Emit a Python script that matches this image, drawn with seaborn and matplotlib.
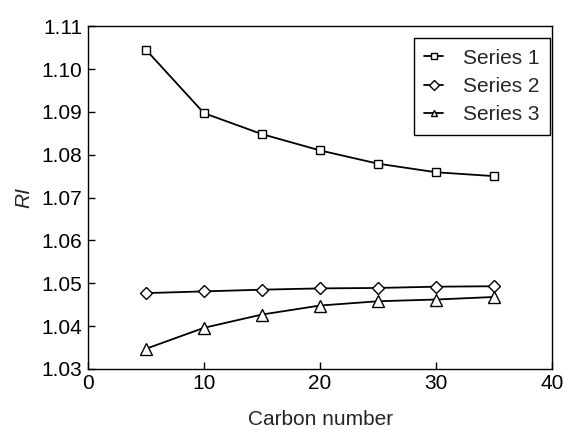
import pandas as pd
import seaborn as sns
import matplotlib.pyplot as plt

carbon = [5, 10, 15, 20, 25, 30, 35]
series1 = [1.1045, 1.0897, 1.0848, 1.0810, 1.0779, 1.0759, 1.0750]
series2 = [1.0477, 1.0481, 1.0485, 1.0488, 1.0489, 1.0492, 1.0493]
series3 = [1.0347, 1.0396, 1.0427, 1.0448, 1.0458, 1.0462, 1.0468]
names = ['Series 1', 'Series 2', 'Series 3']

df = pd.DataFrame({'Carbon number': carbon * 3,
                   'RI': series1 + series2 + series3,
                   'series': [n for n in names for _ in carbon]})

sns.set_style('ticks')
plt.rcParams['font.family'] = ['Liberation Sans', 'DejaVu Sans']
plt.rcParams['xtick.direction'] = 'in'
plt.rcParams['ytick.direction'] = 'in'

fig = plt.figure(figsize=(5.67, 4.29), dpi=100)
ax = fig.add_axes([0.155, 0.140, 0.819, 0.799])

g = sns.lineplot(data=df, x='Carbon number', y='RI', hue='series', style='series',
                 palette=['black'] * 3, dashes=False, markers=['s', 'D', '^'],
                 linewidth=1.3, ax=ax)
for line in ax.lines:
    line.set_markerfacecolor('white')
    line.set_markeredgecolor('black')
    line.set_markeredgewidth(1)
    m = line.get_marker()
    line.set_markersize({'s': 6, 'D': 6, '^': 8.5}.get(m, 7))

ax.set_xlim(0, 40)
ax.set_ylim(1.03, 1.11)
ax.set_xticks([0, 10, 20, 30, 40])
ax.set_yticks([1.03 + 0.01 * i for i in range(9)])
ax.set_yticklabels([f'{1.03 + 0.01 * i:.2f}' for i in range(9)])
ax.tick_params(labelsize=15, length=5, width=1, colors='black', pad=4)
ax.set_xlabel('Carbon number', fontsize=15, labelpad=12)
ax.set_ylabel('RI', fontsize=15, style='italic', labelpad=6)
for s in ax.spines.values():
    s.set_linewidth(1)
    s.set_color('black')

leg = ax.legend(loc='upper right', bbox_to_anchor=(0.995, 0.965), fontsize=15,
                frameon=True, fancybox=False, edgecolor='black', framealpha=1,
                handlelength=0.9, handletextpad=0.95, borderpad=0.5, labelspacing=0.45,
                borderaxespad=0)
leg.get_frame().set_linewidth(1)
for line in leg.get_lines():
    line.set_markersize(5)

plt.savefig('out.png', dpi=100)
